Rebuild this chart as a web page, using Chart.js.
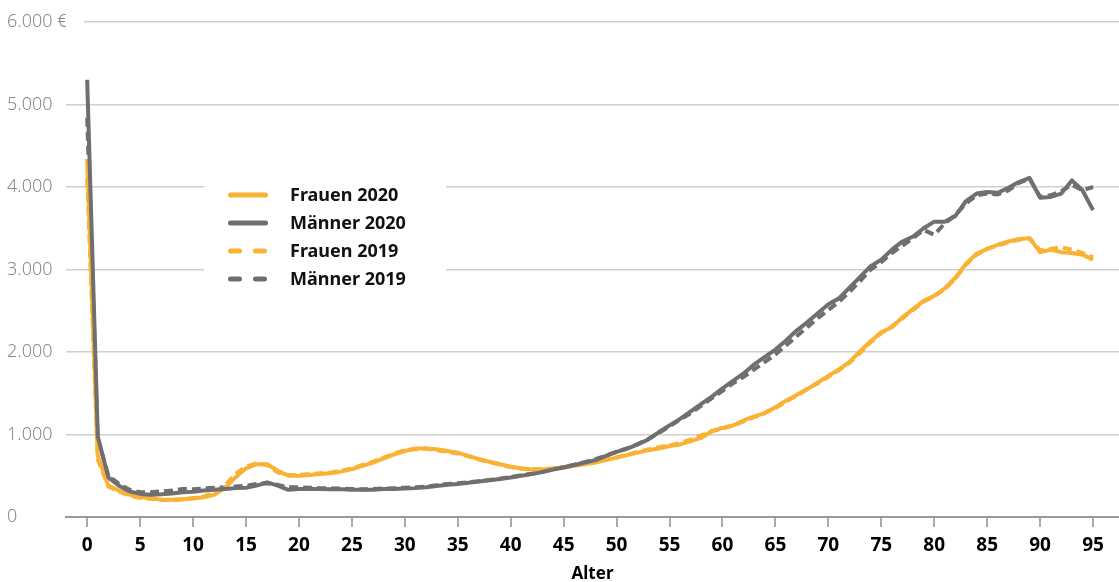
<!DOCTYPE html>
<html>
<head>
<meta charset="utf-8">
<script src="https://cdn.jsdelivr.net/npm/chart.js@4.4.1/dist/chart.umd.min.js"></script>
<style>
  html, body { margin: 0; padding: 0; background: #fff; }
  #wrap { width: 1119px; height: 582px; position: relative; }
</style>
</head>
<body>
<div id="wrap"><canvas id="chart"></canvas></div>
<script>
// Alter 0..95
const ages = Array.from({ length: 96 }, (_, i) => i);
const xTickValues = [0, 5, 10, 15, 20, 25, 30, 35, 40, 45, 50, 55, 60, 65, 70, 75, 80, 85, 90, 95];
const yTickValues = [0, 1000, 2000, 3000, 4000, 5000, 6000];

const frauen2020 = [
  4340, 740, 380, 320, 270, 240, 230, 210, 210, 215,
  225, 240, 270, 350, 480, 590, 640, 640, 560, 500,
  500, 510, 520, 530, 550, 580, 620, 660, 710, 760,
  800, 830, 830, 820, 800, 780, 740, 700, 670, 640,
  610, 590, 575, 575, 585, 600, 620, 640, 660, 690,
  720, 750, 780, 810, 830, 860, 880, 920, 960, 1040,
  1080, 1110, 1170, 1220, 1260, 1330, 1410, 1480, 1550, 1630,
  1710, 1790, 1880, 2010, 2130, 2240, 2300, 2420, 2520, 2620,
  2680, 2770, 2900, 3070, 3190, 3250, 3300, 3340, 3370, 3380,
  3210, 3240, 3210, 3200, 3180, 3120
];
const maenner2020 = [
  5300, 980, 480, 380, 310, 280, 270, 275, 285, 300,
  305, 320, 330, 340, 350, 355, 380, 420, 380, 330,
  340, 340, 340, 335, 335, 330, 330, 330, 340, 340,
  345, 350, 360, 375, 390, 400, 415, 430, 445, 460,
  480, 500, 520, 545, 575, 600, 630, 660, 690, 740,
  790, 830, 880, 940, 1030, 1110, 1190, 1280, 1370, 1460,
  1560, 1650, 1740, 1850, 1940, 2030, 2140, 2260, 2360, 2470,
  2580, 2650, 2780, 2910, 3040, 3120, 3240, 3340, 3400, 3500,
  3580, 3580, 3650, 3830, 3920, 3940, 3930, 3990, 4060, 4110,
  3870, 3880, 3920, 4080, 3960, 3720
];
const frauen2019 = [
  4100, 700, 370, 310, 260, 230, 220, 205, 205, 215,
  230, 250, 290, 380, 520, 610, 650, 630, 540, 510,
  510, 520, 530, 540, 560, 590, 630, 670, 720, 770,
  810, 820, 830, 810, 790, 770, 735, 700, 665, 635,
  605, 585, 580, 580, 590, 605, 625, 645, 665, 695,
  725, 755, 790, 820, 845, 870, 895, 940, 990, 1040,
  1070, 1110, 1160, 1210, 1260, 1320, 1400, 1470, 1550, 1620,
  1700, 1780, 1870, 1990, 2120, 2230, 2310, 2410, 2510, 2610,
  2680, 2760, 2890, 3060, 3180, 3250, 3290, 3330, 3360, 3380,
  3230, 3250, 3270, 3240, 3200, 3150
];
const maenner2019 = [
  4840, 950, 500, 400, 330, 300, 300, 310, 320, 340,
  335, 345, 355, 360, 370, 380, 400, 410, 390, 360,
  360, 355, 350, 345, 345, 340, 335, 340, 345, 350,
  355, 360, 370, 385, 400, 410, 420, 435, 450, 465,
  485, 505, 525, 550, 580, 605, 635, 665, 700, 745,
  790, 830, 885, 945, 1020, 1100, 1180, 1260, 1350, 1440,
  1530, 1620, 1700, 1790, 1880, 1970, 2080, 2190, 2300, 2410,
  2510, 2610, 2730, 2860, 3000, 3090, 3200, 3290, 3380, 3480,
  3420, 3560, 3660, 3800, 3900, 3920, 3910, 3960, 4050, 4100,
  3880, 3900, 3950, 4030, 3960, 4000
];

const ORANGE = '#f9b233';
const GREY = '#6f6f6f';
const FONT = '"Noto Sans", sans-serif';

function fmt(v) {
  const s = String(v).replace(/\B(?=(\d{3})+(?!\d))/g, '.');
  return v === 6000 ? s + ' €' : s;
}

// legend inside the plot, on a white box
const innerLegend = {
  id: 'innerLegend',
  beforeDatasetsDraw(chart) {
    // keep the top grid line clear of the wider "6.000 €" label
    const { ctx, chartArea, scales } = chart;
    const y = scales.y.getPixelForValue(6000);
    ctx.save();
    ctx.fillStyle = '#fff';
    ctx.fillRect(chartArea.left - 1, y - 2, 19, 4);
    ctx.restore();
  },
  afterDatasetsDraw(chart) {
    const ctx = chart.ctx;
    ctx.save();
    ctx.fillStyle = '#fff';
    ctx.fillRect(204, 176, 242, 120);
    const rows = [195, 223, 251, 279];
    chart.data.datasets.forEach((ds, i) => {
      const y = rows[i];
      ctx.beginPath();
      ctx.strokeStyle = ds.borderColor;
      ctx.lineWidth = 5;
      ctx.lineCap = 'round';
      ctx.setLineDash(ds.borderDash && ds.borderDash.length ? [9, 16] : []);
      ctx.moveTo(230.5, y);
      ctx.lineTo(265.5, y);
      ctx.stroke();
      ctx.setLineDash([]);
      ctx.fillStyle = '#111';
      ctx.font = 'bold 18px ' + FONT;
      ctx.textBaseline = 'middle';
      ctx.textAlign = 'left';
      ctx.fillText(ds.label, 290, y + 1);
    });
    ctx.restore();
  }
};

new Chart(document.getElementById('chart'), {
  type: 'line',
  data: {
    labels: ages,
    datasets: [
      { label: 'Frauen 2020', data: frauen2020, borderColor: ORANGE, borderWidth: 4, order: 2 },
      { label: 'Männer 2020', data: maenner2020, borderColor: GREY, borderWidth: 4, order: 1 },
      { label: 'Frauen 2019', data: frauen2019, borderColor: ORANGE, borderWidth: 4, borderDash: [9, 5], order: 4 },
      { label: 'Männer 2019', data: maenner2019, borderColor: GREY, borderWidth: 4, borderDash: [9, 5], order: 3 }
    ]
  },
  options: {
    responsive: true,
    maintainAspectRatio: false,
    animation: false,
    layout: { padding: { top: 22, left: 7, right: 0, bottom: 0 } },
    elements: {
      point: { radius: 0 },
      line: { tension: 0, borderJoinStyle: 'round' }
    },
    plugins: {
      legend: { display: false },
      tooltip: { enabled: false }
    },
    scales: {
      x: {
        type: 'linear',
        min: -2,
        max: 97.45,
        afterBuildTicks: s => { s.ticks = xTickValues.map(v => ({ value: v })); },
        afterFit: s => { s.height = 65; },
        grid: { drawOnChartArea: false, drawTicks: true, tickLength: 10, color: '#aaa', lineWidth: 2 },
        border: { display: true, color: '#999', width: 2 },
        ticks: {
          autoSkip: false, maxRotation: 0, padding: 7,
          color: '#000', font: { family: FONT, size: 19, weight: 'bold' }
        },
        title: {
          display: true, text: 'Alter', color: '#000',
          font: { family: FONT, size: 17, weight: 'bold' },
          padding: { top: 0, bottom: -2 }
        }
      },
      y: {
        min: 0,
        max: 6000,
        afterBuildTicks: s => { s.ticks = yTickValues.map(v => ({ value: v })); },
        afterFit: s => { s.width = 59; },
        grid: { drawTicks: false, color: '#cfcfcf', lineWidth: 1.5 },
        border: { display: false },
        ticks: {
          crossAlign: 'far', padding: 0, color: '#8a8a8a',
          font: { family: FONT, size: 18, weight: 300 },
          callback: v => fmt(v)
        }
      }
    }
  },
  plugins: [innerLegend]
});
</script>
</body>
</html>
